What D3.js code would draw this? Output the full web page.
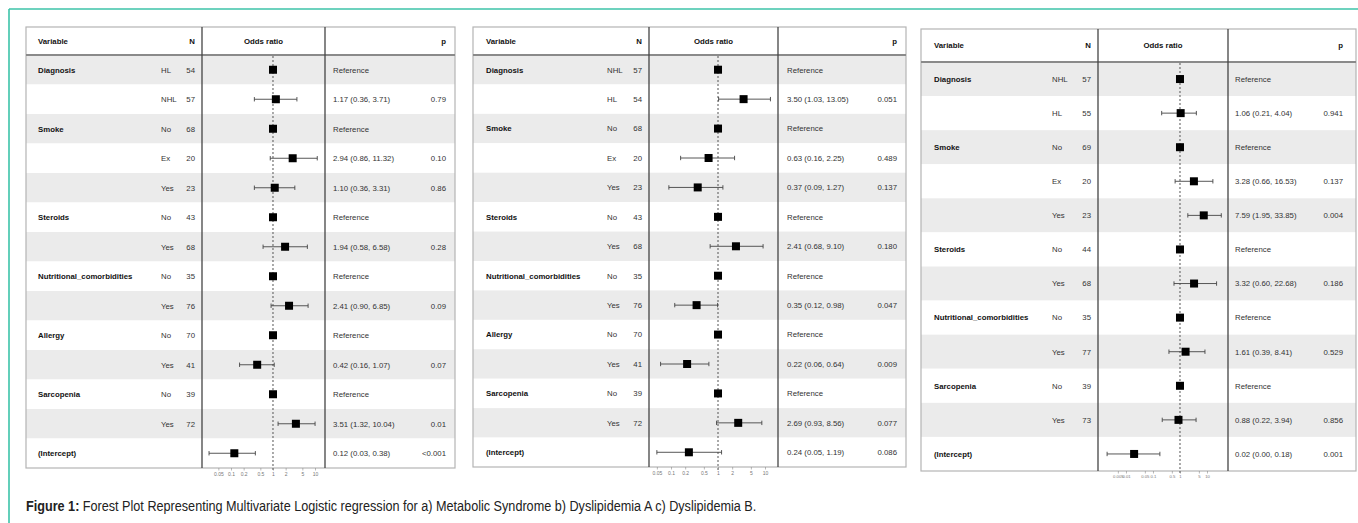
<!DOCTYPE html>
<html>
<head>
<meta charset="utf-8">
<script src="https://cdn.jsdelivr.net/npm/d3@7"></script>
<style>
  html, body { margin: 0; padding: 0; background: #fff; }
  svg { display: block; font-family: "Liberation Sans", Arial, sans-serif; }
</style>
</head>
<body>
<svg id="fig" width="1358" height="523"></svg>
<script>
// ---- a) Metabolic syndrome ----
const msVariable = ["Diagnosis", "", "Smoke", "", "", "Steroids", "", "Nutritional_comorbidities", "", "Allergy", "", "Sarcopenia", "", "(Intercept)"];
const msLevel = ["HL", "NHL", "No", "Ex", "Yes", "No", "Yes", "No", "Yes", "No", "Yes", "No", "Yes", ""];
const msN = [54, 57, 68, 20, 23, 43, 68, 35, 76, 70, 41, 39, 72, null];
const msOR = [1, 1.17, 1, 2.94, 1.10, 1, 1.94, 1, 2.41, 1, 0.42, 1, 3.51, 0.12];
const msLow = [null, 0.36, null, 0.86, 0.36, null, 0.58, null, 0.90, null, 0.16, null, 1.32, 0.03];
const msHigh = [null, 3.71, null, 11.32, 3.31, null, 6.58, null, 6.85, null, 1.07, null, 10.04, 0.38];
const msP = ["", "0.79", "", "0.10", "0.86", "", "0.28", "", "0.09", "", "0.07", "", "0.01", "<0.001"];
const msTicks = [0.05, 0.1, 0.2, 0.5, 1, 2, 5, 10];

// ---- b) Dyslipidemia A ----
const daVariable = ["Diagnosis", "", "Smoke", "", "", "Steroids", "", "Nutritional_comorbidities", "", "Allergy", "", "Sarcopenia", "", "(Intercept)"];
const daLevel = ["NHL", "HL", "No", "Ex", "Yes", "No", "Yes", "No", "Yes", "No", "Yes", "No", "Yes", ""];
const daN = [57, 54, 68, 20, 23, 43, 68, 35, 76, 70, 41, 39, 72, null];
const daOR = [1, 3.50, 1, 0.63, 0.37, 1, 2.41, 1, 0.35, 1, 0.22, 1, 2.69, 0.24];
const daLow = [null, 1.03, null, 0.16, 0.09, null, 0.68, null, 0.12, null, 0.06, null, 0.93, 0.05];
const daHigh = [null, 13.05, null, 2.25, 1.27, null, 9.10, null, 0.98, null, 0.64, null, 8.56, 1.19];
const daP = ["", "0.051", "", "0.489", "0.137", "", "0.180", "", "0.047", "", "0.009", "", "0.077", "0.086"];
const daTicks = [0.05, 0.1, 0.2, 0.5, 1, 2, 5, 10];

// ---- c) Dyslipidemia B ----
const dbVariable = ["Diagnosis", "", "Smoke", "", "", "Steroids", "", "Nutritional_comorbidities", "", "Sarcopenia", "", "(Intercept)"];
const dbLevel = ["NHL", "HL", "No", "Ex", "Yes", "No", "Yes", "No", "Yes", "No", "Yes", ""];
const dbN = [57, 55, 69, 20, 23, 44, 68, 35, 77, 39, 73, null];
const dbOR = [1, 1.06, 1, 3.28, 7.59, 1, 3.32, 1, 1.61, 1, 0.88, 0.02];
const dbLow = [null, 0.21, null, 0.66, 1.95, null, 0.60, null, 0.39, null, 0.22, 0.002];
const dbHigh = [null, 4.04, null, 16.53, 33.85, null, 22.68, null, 8.41, null, 3.94, 0.18];
const dbP = ["", "0.941", "", "0.137", "0.004", "", "0.186", "", "0.529", "", "0.856", "0.001"];
const dbTicks = [0.005, 0.01, 0.05, 0.1, 0.5, 1, 5, 10];

function zipRows(variable, level, n, or, low, high, p) {
  return variable.map((v, i) => ({
    variable: v, level: level[i], n: n[i], or: or[i], low: low[i], high: high[i], p: p[i]
  }));
}

const panels = [
  {
    rows: zipRows(msVariable, msLevel, msN, msOR, msLow, msHigh, msP), ticks: msTicks,
    box: { x0: 26, x1: 455, top: 27, head: 55, bottom: 468, varX: 38, lvlX: 161, nX: 195, div1: 202, div2: 325, estX: 333, pX: 446 },
    domain: [0.0204, 17.3], tickFont: 5
  },
  {
    rows: zipRows(daVariable, daLevel, daN, daOR, daLow, daHigh, daP), ticks: daTicks,
    box: { x0: 473, x1: 906, top: 27, head: 55, bottom: 467, varX: 486, lvlX: 607, nX: 642, div1: 649, div2: 778, estX: 787, pX: 897 },
    domain: [0.034, 18.9], tickFont: 5
  },
  {
    rows: zipRows(dbVariable, dbLevel, dbN, dbOR, dbLow, dbHigh, dbP), ticks: dbTicks,
    box: { x0: 921, x1: 1356, top: 29, head: 62, bottom: 471, varX: 934, lvlX: 1052, nX: 1091, div1: 1098, div2: 1228, estX: 1235, pX: 1343 },
    domain: [0.00092, 60], tickFont: 4.2
  }
];

const svg = d3.select("#fig");
const FS = 7.8;

// page frame
svg.append("line").attr("x1", 9).attr("x2", 1358).attr("y1", 9).attr("y2", 9)
  .attr("stroke", "#3cc3a9").attr("stroke-width", 1.6);
svg.append("line").attr("x1", 9).attr("x2", 9).attr("y1", 9).attr("y2", 523)
  .attr("stroke", "#3cc3a9").attr("stroke-width", 1.6);

panels.forEach(panel => {
  const b = panel.box;
  const g = svg.append("g");
  const y = d3.scaleBand().domain(d3.range(panel.rows.length)).range([b.head, b.bottom]);
  const x = d3.scaleLog().domain(panel.domain).range([b.div1, b.div2]);
  const yc = i => y(i) + y.bandwidth() / 2;

  // zebra rows
  g.selectAll("rect.row").data(panel.rows).join("rect")
    .attr("x", b.x0).attr("width", b.x1 - b.x0)
    .attr("y", (d, i) => y(i)).attr("height", y.bandwidth())
    .attr("fill", (d, i) => i % 2 === 0 ? "#ebebeb" : "#ffffff");

  // outer box
  g.append("rect").attr("x", b.x0).attr("y", b.top)
    .attr("width", b.x1 - b.x0).attr("height", b.bottom - b.top)
    .attr("fill", "none").attr("stroke", "#b4b4b4").attr("stroke-width", 1.2);
  g.append("line").attr("x1", b.x0).attr("x2", b.x1).attr("y1", b.head).attr("y2", b.head)
    .attr("stroke", "#8a8a8a").attr("stroke-width", 2);
  [b.div1, b.div2].forEach(xx => {
    g.append("line").attr("x1", xx).attr("x2", xx).attr("y1", b.top).attr("y2", b.bottom)
      .attr("stroke", "#444").attr("stroke-width", 1.3);
  });

  // header
  const hy = (b.top + b.head) / 2 + 2.8;
  const hdr = g.append("g").attr("font-size", FS).attr("font-weight", "bold").attr("fill", "#111");
  hdr.append("text").attr("x", b.varX).attr("y", hy).text("Variable");
  hdr.append("text").attr("x", b.nX).attr("y", hy).attr("text-anchor", "end").text("N");
  hdr.append("text").attr("x", (b.div1 + b.div2) / 2).attr("y", hy).attr("text-anchor", "middle").text("Odds ratio");
  hdr.append("text").attr("x", b.pX).attr("y", hy).attr("text-anchor", "end").text("p");

  // table text
  const t = g.append("g").attr("font-size", FS);
  t.selectAll("text.var").data(panel.rows).join("text")
    .attr("x", b.varX).attr("y", (d, i) => yc(i) + 2.8)
    .attr("font-weight", "bold").attr("fill", "#111").text(d => d.variable);
  t.selectAll("text.lvl").data(panel.rows).join("text")
    .attr("x", b.lvlX).attr("y", (d, i) => yc(i) + 2.8).attr("fill", "#333").text(d => d.level);
  t.selectAll("text.n").data(panel.rows).join("text")
    .attr("x", b.nX).attr("y", (d, i) => yc(i) + 2.8).attr("text-anchor", "end").attr("fill", "#333")
    .text(d => d.n == null ? "" : d.n);
  t.selectAll("text.est").data(panel.rows).join("text")
    .attr("x", b.estX).attr("y", (d, i) => yc(i) + 2.8).attr("fill", "#333")
    .text(d => d.low == null ? "Reference" : `${d.or.toFixed(2)} (${d.low.toFixed(2)}, ${d.high.toFixed(2)})`);
  t.selectAll("text.p").data(panel.rows).join("text")
    .attr("x", b.pX).attr("y", (d, i) => yc(i) + 2.8).attr("text-anchor", "end").attr("fill", "#333")
    .text(d => d.p);

  // reference line at OR = 1
  g.append("line").attr("x1", x(1)).attr("x2", x(1)).attr("y1", b.head + 1).attr("y2", b.bottom + 3)
    .attr("stroke", "#555").attr("stroke-width", 1).attr("stroke-dasharray", "2,2");

  // confidence intervals
  const ci = panel.rows.map((d, i) => ({ ...d, i })).filter(d => d.low != null);
  g.selectAll("line.ci").data(ci).join("line")
    .attr("x1", d => x(d.low)).attr("x2", d => x(d.high))
    .attr("y1", d => yc(d.i)).attr("y2", d => yc(d.i))
    .attr("stroke", "#444").attr("stroke-width", 0.9);
  ["low", "high"].forEach(k => {
    g.selectAll("line.cap-" + k).data(ci).join("line")
      .attr("x1", d => x(d[k])).attr("x2", d => x(d[k]))
      .attr("y1", d => yc(d.i) - 2.2).attr("y2", d => yc(d.i) + 2.2)
      .attr("stroke", "#444").attr("stroke-width", 0.9);
  });

  // point estimates
  const S = 8;
  g.selectAll("rect.pt").data(panel.rows).join("rect")
    .attr("x", d => x(d.or) - S / 2).attr("y", (d, i) => yc(i) - S / 2)
    .attr("width", S).attr("height", S).attr("fill", "#000");

  // odds ratio axis
  const axis = g.append("g").attr("transform", `translate(0,${b.bottom})`)
    .call(d3.axisBottom(x).tickValues(panel.ticks).tickSize(2.5).tickPadding(1.5).tickFormat(d => String(d)));
  axis.select(".domain").remove();
  axis.selectAll(".tick line").attr("stroke", "#888").attr("stroke-width", 0.6);
  axis.selectAll(".tick text").attr("font-size", panel.tickFont).attr("fill", "#777")
    .attr("font-family", "Liberation Sans, Arial, sans-serif");
});

// caption: bold label followed by the description, squeezed to a narrow face
const capG = svg.append("g");
const capBold = capG.append("text").attr("x", 0).attr("y", 0).attr("font-size", 15)
  .attr("font-weight", "bold").attr("fill", "#222").text("Figure 1:");
const boldW = capBold.node().getComputedTextLength();
const capRest = capG.append("text").attr("x", boldW + 4).attr("y", 0).attr("font-size", 15)
  .attr("fill", "#222")
  .text("Forest Plot Representing Multivariate Logistic regression for a) Metabolic Syndrome b) Dyslipidemia A c) Dyslipidemia B.");
const fullW = boldW + 4 + capRest.node().getComputedTextLength();
capG.attr("transform", `translate(26,511) scale(${731 / fullW},1)`);
</script>
</body>
</html>
